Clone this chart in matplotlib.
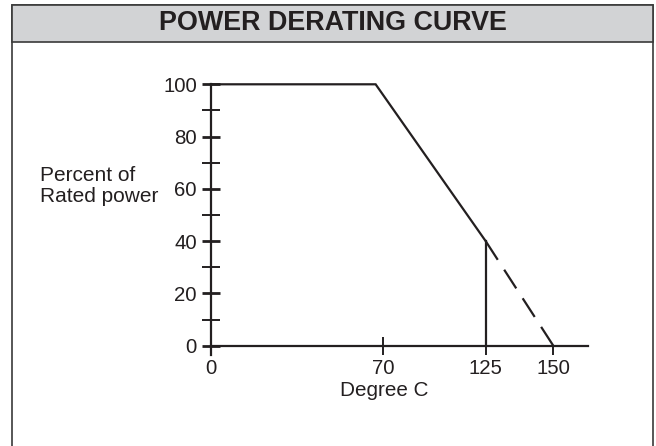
import numpy as np
import matplotlib
matplotlib.use("Agg")
import matplotlib.pyplot as plt
from matplotlib.patches import Rectangle
from matplotlib.ticker import FixedLocator, FixedFormatter, NullFormatter

# ---------------- data ----------------
title = "POWER DERATING CURVE"
x_label = "Degree C"
y_label = "Percent of\nRated power"

y_major = [0, 20, 40, 60, 80, 100]
y_major_labels = ["0", "20", "40", "60", "80", "100"]
y_minor = [10, 30, 50, 70, 90]
x_major = [0, 125, 150]
x_major_labels = ["0", "125", "150"]
x_minor = [70]
x_minor_labels = ["70"]

solid_x = [0, 67, 125]
solid_y = [100, 100, 40]
dash_x = [125, 150]
dash_y = [40, 0]
cut_x = [125, 125]
cut_y = [0, 40]

# printed temperature axis is not linear: knots of the drawing scale
knot_data = np.array([0, 70, 125, 150, 170], dtype=float)
knot_pos = np.array([0, 172, 274.7, 342.3, 396.4], dtype=float)


def _pw(x, xs, ys):
    x = np.asarray(x, dtype=float)
    out = np.interp(x, xs, ys)
    lo = x < xs[0]
    hi = x > xs[-1]
    s0 = (ys[1] - ys[0]) / (xs[1] - xs[0])
    s1 = (ys[-1] - ys[-2]) / (xs[-1] - xs[-2])
    out = np.where(lo, ys[0] + (x - xs[0]) * s0, out)
    out = np.where(hi, ys[-1] + (x - xs[-1]) * s1, out)
    return out


def fwd(x):
    return _pw(x, knot_data, knot_pos)


def inv(p):
    return _pw(p, knot_pos, knot_data)


INK = "#231f20"
plt.rcParams["font.family"] = ["Liberation Sans", "DejaVu Sans"]
plt.rcParams["lines.scale_dashes"] = False

W, H = 656, 446
fig = plt.figure(figsize=(W / 100, H / 100), dpi=100)

# frame and title bar
fig.add_artist(Rectangle((12.3 / W, -0.02), (653.3 - 12.3) / W, (H - 4.7) / H + 0.02,
                         transform=fig.transFigure, fill=False, ec="#3a3a3a", lw=1.2))
fig.add_artist(Rectangle((12.3 / W, (H - 42.3) / H), (653.3 - 12.3) / W, (42.3 - 4.7) / H,
                         transform=fig.transFigure, fc="#d2d3d5", ec="#3a3a3a", lw=1.2))
fig.text(332.8 / W, 1 - 23.5 / H, title, ha="center", va="center",
         fontsize=19.4, fontweight="bold", color=INK)

# axes: x=0 at px 211, right end at px 588; y 0 at px 345.7, 100 at px 84.3
ppu = (345.7 - 84.3) / 100.0
ybot = -(355.4 - 345.7) / ppu
ax = fig.add_axes([211 / W, (H - 355.4) / H, 377 / W, (355.4 - 84.3) / H])
ax.set_xscale("function", functions=(fwd, inv))
ax.set_xlim(0, float(inv(377)))
ax.set_ylim(ybot, 100)
ax.patch.set_visible(False)

for s in ("top", "right"):
    ax.spines[s].set_visible(False)
ax.spines["left"].set_linewidth(1.6)
ax.spines["left"].set_color(INK)
ax.spines["bottom"].set_position(("data", 0))
ax.spines["bottom"].set_linewidth(1.6)
ax.spines["bottom"].set_color(INK)

ax.yaxis.set_major_locator(FixedLocator(y_major))
ax.yaxis.set_major_formatter(FixedFormatter(y_major_labels))
ax.yaxis.set_minor_locator(FixedLocator(y_minor))
ax.yaxis.set_minor_formatter(NullFormatter())
ax.xaxis.set_major_locator(FixedLocator(x_major))
ax.xaxis.set_major_formatter(FixedFormatter(x_major_labels))
ax.xaxis.set_minor_locator(FixedLocator(x_minor))
ax.xaxis.set_minor_formatter(FixedFormatter(x_minor_labels))

ax.tick_params(axis="y", which="major", direction="inout", length=13.5, width=2.0,
               pad=3.5, labelsize=14.7, color=INK, labelcolor=INK)
ax.tick_params(axis="y", which="minor", direction="inout", length=13.5, width=1.4, color=INK)
ax.tick_params(axis="x", which="major", direction="out", length=6.5, width=1.4,
               pad=3.3, labelsize=14.7, color=INK, labelcolor=INK)
ax.tick_params(axis="x", which="minor", direction="inout", length=13.0, width=1.4,
               pad=3.3, labelsize=14.7, color=INK, labelcolor=INK)

ax.plot(solid_x, solid_y, color=INK, lw=1.6, solid_joinstyle="miter", clip_on=False)
ax.plot(dash_x, dash_y, color=INK, lw=1.6, dashes=(16, 8.5), clip_on=False)
ax.plot(cut_x, cut_y, color=INK, lw=1.6, clip_on=False)

fig.text(384 / W, 1 - 390 / H, x_label, ha="center", va="center", fontsize=14.9, color=INK)
fig.text(40 / W, 1 - 186 / H, y_label, ha="left", va="center", fontsize=15,
         linespacing=1.12, color=INK)

fig.savefig("out.png", dpi=100)
